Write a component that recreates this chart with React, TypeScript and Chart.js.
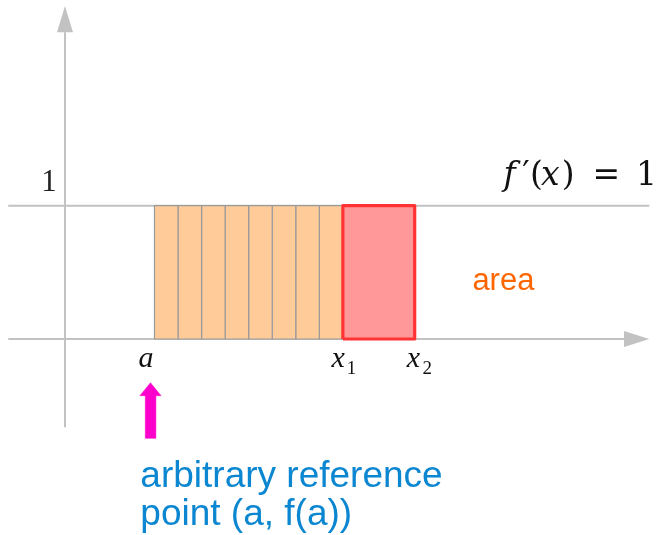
import React, { useEffect, useRef } from 'react';
import { Chart, registerables } from 'chart.js';

Chart.register(...registerables);

// ---- diagram data (data units: x = horizontal, y = f'(x)) ----
const stripEdges = [3.8, 4.8, 5.8, 6.8, 7.8, 8.8, 9.8, 10.8, 11.8];
const areaInterval = [11.8, 14.85]; // x1 .. x2
const fPrimeValue = 1;
const referenceA = 3.8;

const viewX = [-2.76, 25.31];
const viewY = [-1.47, 2.543];

const xAxisSpan = [-2.41, 23.74];
const xArrowTip = 24.81;
const xArrowHalf = 0.06;
const yAxisSpan = [-0.662, 2.301];
const yArrowTip = 2.498;
const yArrowHalf = 0.34;
const unitLineSpan = [-2.41, 24.81];

const pointerCenter = 3.63;
const pointerShaftHalf = 0.22;
const pointerHeadHalf = 0.45;
const pointerYs = [-0.745, -0.425, -0.328]; // bottom, head base, tip

const GRAY = '#c2c2c2';

function rect(x0: number, x1: number, y0: number, y1: number) {
  return [
    { x: x0, y: y0 },
    { x: x0, y: y1 },
    { x: x1, y: y1 },
    { x: x1, y: y0 },
    { x: x0, y: y0 },
  ];
}

const base = {
  type: 'line' as const,
  pointRadius: 0,
  pointHoverRadius: 0,
  tension: 0,
};

const textPlugin = {
  id: 'diagramText',
  afterDatasetsDraw(chart: any) {
    const { ctx } = chart;
    const xs = chart.scales.x;
    const ys = chart.scales.y;
    const px = (v: number) => xs.getPixelForValue(v);
    const py = (v: number) => ys.getPixelForValue(v);
    ctx.save();
    ctx.textBaseline = 'alphabetic';
    const serif = '"Liberation Serif", serif';
    const math = '"DejaVu Serif", serif';
    const sans = '"Liberation Sans", Arial, sans-serif';

    // "1" tick at y = f'
    ctx.fillStyle = '#222';
    ctx.font = `31px ${serif}`;
    ctx.textAlign = 'right';
    ctx.fillText('1', px(-0.35), py(1.112));

    // f'(x) = 1
    ctx.fillStyle = '#111';
    ctx.textAlign = 'left';
    const pieces: [string, boolean, number][] = [
      ['f', true, 18.62],
      ['\u2032', false, 19.42],
      ['(', false, 19.75],
      ['x', true, 20.21],
      [')', false, 21.1],
      ['=', false, 22.4],
      ['1', false, 24.25],
    ];
    for (const [t, it, xv] of pieces) {
      ctx.font = `${it ? 'italic ' : ''}33px ${math}`;
      ctx.fillText(t, px(xv), py(1.155));
    }

    // a, x1, x2
    ctx.fillStyle = '#111';
    ctx.font = `italic 30px ${serif}`;
    ctx.textAlign = 'center';
    ctx.fillText('a', px(referenceA - 0.36), py(-0.212));
    ctx.textAlign = 'left';
    ctx.fillText('x', px(areaInterval[0] - 0.48), py(-0.208));
    ctx.fillText('x', px(areaInterval[1] - 0.34), py(-0.208));
    ctx.font = `19px ${serif}`;
    ctx.fillText('1', px(areaInterval[0] + 0.16), py(-0.265));
    ctx.fillText('2', px(areaInterval[1] + 0.33), py(-0.265));

    // area
    ctx.fillStyle = '#ff6600';
    ctx.font = `31px ${sans}`;
    ctx.fillText('area', px(17.3), py(0.368));

    // reference point caption
    ctx.fillStyle = '#0b87d1';
    ctx.font = `37px ${sans}`;
    ctx.fillText('arbitrary reference', px(3.2), py(-1.108));
    ctx.fillText('point (a, f(a))', px(3.2), py(-1.395));
    ctx.restore();
  },
};

export default function App() {
  const ref = useRef<HTMLCanvasElement | null>(null);
  useEffect(() => {
    if (!ref.current) return;
    const strips = [];
    for (let i = 0; i < stripEdges.length - 1; i++) {
      strips.push({
        ...base,
        data: rect(stripEdges[i], stripEdges[i + 1], 0, fPrimeValue),
        fill: 'shape',
        backgroundColor: '#ffcc99',
        borderColor: '#9a9a9a',
        borderWidth: 1.2,
        order: 2,
      });
    }
    const datasets: any[] = [
      {
        ...base,
        data: rect(areaInterval[0], areaInterval[1], 0, fPrimeValue),
        fill: 'shape',
        backgroundColor: '#ff9999',
        borderColor: '#ff3333',
        borderWidth: 3.2,
        borderJoinStyle: 'round',
        order: 1,
      },
      ...strips,
      {
        ...base,
        data: [
          { x: pointerCenter - pointerShaftHalf, y: pointerYs[0] },
          { x: pointerCenter - pointerShaftHalf, y: pointerYs[1] },
          { x: pointerCenter - pointerHeadHalf, y: pointerYs[1] },
          { x: pointerCenter, y: pointerYs[2] },
          { x: pointerCenter + pointerHeadHalf, y: pointerYs[1] },
          { x: pointerCenter + pointerShaftHalf, y: pointerYs[1] },
          { x: pointerCenter + pointerShaftHalf, y: pointerYs[0] },
          { x: pointerCenter - pointerShaftHalf, y: pointerYs[0] },
        ],
        fill: 'shape',
        backgroundColor: '#ff00cc',
        borderColor: '#ff00cc',
        borderWidth: 0.5,
        order: 1,
      },
      {
        ...base,
        data: [
          { x: unitLineSpan[0], y: fPrimeValue },
          { x: unitLineSpan[1], y: fPrimeValue },
        ],
        fill: false,
        borderColor: GRAY,
        borderWidth: 2,
        order: 5,
      },
      {
        ...base,
        data: [
          { x: xAxisSpan[0], y: 0 },
          { x: xAxisSpan[1], y: 0 },
        ],
        fill: false,
        borderColor: GRAY,
        borderWidth: 2,
        order: 5,
      },
      {
        ...base,
        data: [
          { x: xAxisSpan[1], y: xArrowHalf },
          { x: xArrowTip, y: 0 },
          { x: xAxisSpan[1], y: -xArrowHalf },
          { x: xAxisSpan[1], y: xArrowHalf },
        ],
        fill: 'shape',
        backgroundColor: GRAY,
        borderColor: GRAY,
        borderWidth: 0,
        order: 5,
      },
      {
        ...base,
        data: [
          { x: 0, y: yAxisSpan[0] },
          { x: 0, y: yAxisSpan[1] },
        ],
        fill: false,
        borderColor: GRAY,
        borderWidth: 2,
        order: 5,
      },
      {
        ...base,
        data: [
          { x: -yArrowHalf, y: yAxisSpan[1] },
          { x: 0, y: yArrowTip },
          { x: yArrowHalf, y: yAxisSpan[1] },
          { x: -yArrowHalf, y: yAxisSpan[1] },
        ],
        fill: 'shape',
        backgroundColor: GRAY,
        borderColor: GRAY,
        borderWidth: 0,
        order: 5,
      },
    ];

    const chart = new Chart(ref.current, {
      type: 'line',
      data: { datasets },
      options: {
        responsive: false,
        animation: false,
        events: [],
        layout: { padding: 0 },
        plugins: { legend: { display: false }, tooltip: { enabled: false } },
        scales: {
          x: { type: 'linear', min: viewX[0], max: viewX[1], display: false },
          y: { type: 'linear', min: viewY[0], max: viewY[1], display: false },
        },
      },
      plugins: [textPlugin],
    } as any);
    return () => chart.destroy();
  }, []);

  return (
    <div style={{ position: 'fixed', left: 0, top: 0, width: 661, height: 535, background: '#fff' }}>
      <canvas ref={ref} width={661} height={535} style={{ width: 661, height: 535, display: 'block' }} />
    </div>
  );
}
